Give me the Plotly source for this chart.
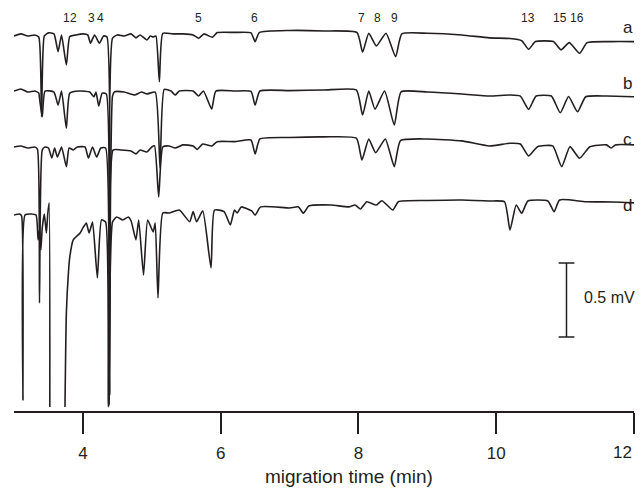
import plotly.graph_objects as go

# electropherograms, signal in mV relative to each trace's own baseline
TIME_A = [3.00, 3.10, 3.20, 3.30, 3.36, 3.40, 3.44, 3.50, 3.58, 3.64, 3.69, 3.76, 3.81, 3.90, 4.00,
          4.07, 4.11, 4.17, 4.24, 4.30, 4.35, 4.39, 4.43, 4.50, 4.60, 4.70, 4.77, 4.83, 4.93, 4.98,
          5.02, 5.06, 5.11, 5.16, 5.30, 5.45, 5.60, 5.68, 5.76, 5.88, 5.95, 6.20, 6.44, 6.50, 6.56,
          7.00, 7.50, 7.98, 8.06, 8.15, 8.26, 8.40, 8.54, 8.63, 9.00, 9.50, 9.90, 10.20, 10.37,
          10.47, 10.57, 10.83, 10.94, 11.06, 11.21, 11.32, 11.67, 12.00]
SIG_A = [-0.007, 0.007, -0.007, 0.0, -0.014, -0.552, -0.007, 0.014, 0.007, -0.113, 0.0, -0.203,
         -0.011, 0.0, 0.007, 0.0, -0.056, 0.0, -0.056, -0.007, -0.014, -2.432, -0.022, 0.0, -0.007,
         0.007, -0.020, 0.0, -0.034, -0.007, -0.014, -0.007, -0.316, 0.011, 0.007, 0.007, 0.0,
         -0.022, 0.007, -0.016, 0.016, 0.017, 0.014, -0.045, 0.016, 0.030, 0.027, 0.016, -0.117,
         0.011, -0.074, 0.011, -0.147, 0.007, 0.011, 0.0, -0.020, -0.024, -0.039, -0.097, -0.045,
         -0.045, -0.101, -0.052, -0.124, -0.052, -0.045, -0.045]

TIME_B = [3.00, 3.10, 3.20, 3.30, 3.36, 3.37, 3.41, 3.45, 3.58, 3.64, 3.69, 3.76, 3.81, 3.95, 4.10,
          4.16, 4.19, 4.23, 4.28, 4.34, 4.38, 4.43, 4.46, 4.60, 4.75, 4.85, 4.93, 5.05, 5.12, 5.18,
          5.28, 5.34, 5.40, 5.60, 5.68, 5.75, 5.87, 5.93, 6.20, 6.44, 6.50, 6.57, 7.00, 7.50, 7.97,
          8.06, 8.15, 8.24, 8.38, 8.52, 8.62, 9.00, 9.50, 9.90, 10.20, 10.35, 10.47, 10.58, 10.80,
          10.93, 11.05, 11.18, 11.30, 11.60, 12.00]
SIG_B = [0.0, 0.014, -0.007, 0.0, -0.014, -0.047, -0.174, 0.0, -0.007, -0.095, 0.0, -0.252, -0.014,
         0.0, -0.007, -0.039, -0.007, -0.101, -0.014, -0.020, -2.088, -0.034, -0.005, -0.007,
         -0.027, -0.007, -0.020, -0.007, -0.520, 0.011, 0.0, -0.027, 0.0, 0.0, -0.034, 0.0, -0.122,
         0.0, 0.0, -0.003, -0.095, 0.0, 0.003, 0.007, 0.007, -0.162, 0.0, -0.122, 0.0, -0.230,
         -0.005, -0.007, -0.020, -0.034, -0.027, -0.034, -0.124, -0.034, -0.034, -0.147, -0.037,
         -0.140, -0.039, -0.034, -0.039]

TIME_C = [3.00, 3.10, 3.20, 3.30, 3.34, 3.37, 3.41, 3.45, 3.50, 3.55, 3.59, 3.63, 3.69, 3.76, 3.80,
          3.86, 3.92, 4.03, 4.08, 4.14, 4.20, 4.26, 4.33, 4.38, 4.44, 4.55, 4.70, 4.77, 4.83, 4.93,
          5.00, 5.04, 5.10, 5.16, 5.25, 5.34, 5.45, 5.60, 5.66, 5.74, 5.87, 5.95, 6.20, 6.44, 6.50,
          6.57, 7.00, 7.50, 7.97, 8.05, 8.15, 8.25, 8.39, 8.52, 8.61, 9.00, 9.50, 9.90, 10.20, 10.35,
          10.47, 10.60, 10.82, 10.95, 11.07, 11.21, 11.36, 11.60, 11.67, 11.73, 12.00]
SIG_C = [0.0, 0.007, -0.007, 0.0, -0.014, -1.054, -0.020, 0.0, -0.007, -0.074, -0.007, -0.068, 0.0,
         -0.133, -0.007, -0.020, 0.0, 0.0, -0.074, 0.0, -0.068, -0.007, -0.007, -1.743, -0.020,
         -0.020, -0.027, -0.047, -0.020, -0.034, 0.0, 0.007, -0.338, 0.0, 0.007, -0.007, 0.014,
         0.007, -0.016, 0.020, 0.007, 0.036, 0.036, 0.047, -0.047, 0.054, 0.064, 0.068, 0.059,
         -0.088, 0.054, -0.039, 0.054, -0.133, 0.043, 0.054, 0.041, 0.007, 0.025, 0.020, -0.061,
         0.002, 0.007, -0.133, 0.002, -0.076, 0.002, 0.014, -0.007, 0.014, 0.014]

TIME_D = [3.00, 3.08, 3.11, 3.13, 3.16, 3.25, 3.32, 3.35, 3.37, 3.39, 3.41, 3.44, 3.47, 3.49, 3.51,
          3.52, None, 3.74, 3.76, 3.79, 3.81, 3.86, 3.96, 4.00, 4.05, 4.09, 4.14, 4.21, 4.27, 4.33,
          4.37, 4.43, 4.49, 4.58, 4.66, 4.70, 4.77, 4.81, 4.88, 4.94, 5.02, 5.05, 5.09, 5.16, 5.26,
          5.40, 5.55, 5.60, 5.65, 5.74, 5.86, 5.91, 6.05, 6.14, 6.20, 6.24, 6.30, 6.45, 6.50, 6.58,
          7.00, 7.13, 7.20, 7.28, 7.60, 7.86, 7.95, 8.03, 8.12, 8.26, 8.34, 8.50, 8.58, 9.00, 9.50,
          9.90, 10.12, 10.20, 10.29, 10.37, 10.46, 10.75, 10.84, 10.92, 11.30, 11.70, 12.00]
SIG_D = [-0.014, -0.007, -0.020, -1.264, -0.014, -0.007, -0.014, -0.182, -0.115, -0.250, -0.101,
         -0.007, -0.135, -0.007, 0.068, -1.311, None, -1.311, -0.676, -0.405, -0.297, -0.182,
         -0.135, -0.101, -0.068, -0.135, -0.061, -0.439, -0.047, -0.061, -1.311, -0.061, -0.027,
         -0.047, -0.027, -0.054, -0.182, -0.047, -0.419, -0.047, -0.128, -0.068, -0.574, 0.0, 0.0,
         0.020, -0.059, 0.009, -0.059, 0.014, -0.372, 0.020, 0.009, -0.081, 0.020, 0.0, 0.041,
         0.014, -0.014, 0.041, 0.034, 0.041, -0.002, 0.047, 0.054, 0.041, 0.054, 0.027, 0.076,
         0.054, 0.083, 0.020, 0.076, 0.084, 0.088, 0.081, 0.076, -0.115, 0.054, -0.002, 0.081,
         0.081, 0.009, 0.088, 0.076, 0.074, 0.068]

TRACE_NAMES = ["a", "b", "c", "d"]
OFFSETS = [2.541, 2.162, 1.784, 1.338]   # vertical stacking, mV

PEAK_LABELS = ["1", "2", "3", "4", "5", "6", "7", "8", "9", "13", "15", "16"]
PEAK_TIMES = [3.765, 3.86, 4.12, 4.26, 5.68, 6.49, 8.05, 8.27, 8.53, 10.46, 10.93, 11.17]

TICK_VALS = [4, 6, 8, 10, 12]
TICK_LABELS = ["4", "6", "8", "10", "12"]

INK = "#231f20"
FONT = "Liberation Sans, Arial, sans-serif"

fig = go.Figure()

traces = [(TIME_A, SIG_A), (TIME_B, SIG_B), (TIME_C, SIG_C), (TIME_D, SIG_D)]
for (t, s), off, name in zip(traces, OFFSETS, TRACE_NAMES):
    y = [None if v is None else off + v for v in s]
    fig.add_trace(go.Scatter(x=t, y=y, mode="lines", name=name,
                             line=dict(color=INK, width=1.6, shape="spline", smoothing=0.5),
                             connectgaps=False, showlegend=False, hoverinfo="skip"))
    # trace letter at right end
    fig.add_annotation(x=11.91, y=off + 0.05, text=name, showarrow=False,
                       font=dict(family=FONT, size=17, color=INK))

for lab, t in zip(PEAK_LABELS, PEAK_TIMES):
    fig.add_annotation(x=t, y=2.655, text=lab, showarrow=False,
                       font=dict(family=FONT, size=12, color=INK))

# 0.5 mV scale bar
fig.add_shape(type="line", x0=11.02, x1=11.02, y0=0.5, y1=1.0, line=dict(color=INK, width=1.5))
for yy in (0.5, 1.0):
    fig.add_shape(type="line", x0=10.905, x1=11.135, y0=yy, y1=yy, line=dict(color=INK, width=1.5))
fig.add_annotation(x=11.25, y=0.77, text="0.5 mV", showarrow=False, xanchor="left",
                   font=dict(family=FONT, size=16, color=INK))

# axis title, a bit right of centre as in the original
fig.add_annotation(x=7.86, y=-0.162, xref="x", yref="paper", text="migration time (min)",
                   showarrow=False, yanchor="middle", font=dict(family=FONT, size=19, color=INK))

# last tick label sits against the right edge, so it is right-aligned there
fig.add_annotation(x=1.0, y=-0.104, xref="paper", yref="paper", text=TICK_LABELS[-1],
                   showarrow=False, xanchor="right", yanchor="middle",
                   font=dict(family=FONT, size=17, color=INK))

# page body adds an 8 px margin and the plot div is only 627 px wide
fig.update_layout(
    width=627, height=483,
    margin=dict(l=6, r=1, t=0, b=80, autoexpand=False),
    plot_bgcolor="white", paper_bgcolor="white",
    xaxis=dict(range=[3, 12], tickvals=TICK_VALS, ticktext=TICK_LABELS[:-1] + [""],
               ticks="outside", ticklen=21, tickwidth=2,
               tickcolor=INK, showline=True, linecolor=INK, linewidth=2, showgrid=False,
               zeroline=False, automargin=False, ticklabelstandoff=5,
               tickfont=dict(family=FONT, size=17, color=INK)),
    yaxis=dict(range=[0, 403 / 148], visible=False, showgrid=False, zeroline=False,
               automargin=False),
)

fig.write_html("out.html")
